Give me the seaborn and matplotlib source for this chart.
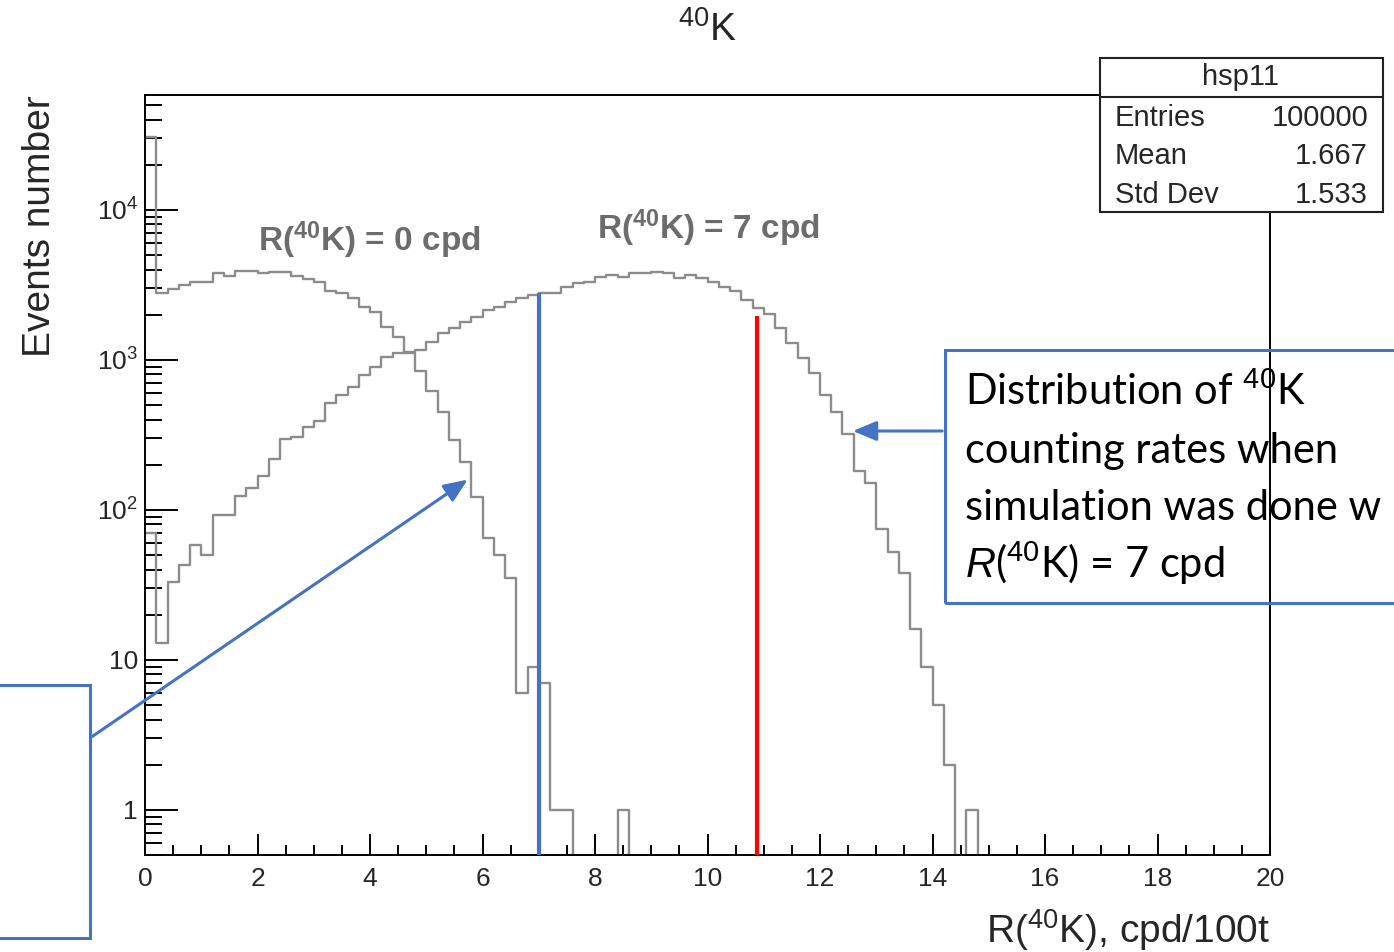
import numpy as np
import pandas as pd
import matplotlib
matplotlib.use("Agg")
import matplotlib.pyplot as plt
import seaborn as sns
from matplotlib.patches import Rectangle, FancyArrowPatch
from matplotlib.lines import Line2D
from matplotlib.ticker import FixedLocator, FixedFormatter, NullFormatter, MultipleLocator, LogLocator

# ---------------- data ----------------
x_min, x_max, n_bins = 0.0, 20.0, 100

counts_0cpd = [30700, 2800, 2950, 3150, 3300, 3300, 3800, 3600, 3900, 3900,
               3800, 3850, 3850, 3600, 3450, 3300, 2900, 2800, 2600, 2250,
               2100, 1650, 1420, 1110, 850, 620, 450, 293, 209, 122,
               65, 50, 35, 6, 9, 7, 1, 1, 0, 0,
               0, 0, 1] + [0] * 57

counts_7cpd = [70, 13, 33, 43, 58, 50, 93, 93, 124, 140,
               169, 219, 297, 307, 357, 390, 517, 585, 661, 794,
               900, 1050, 1110, 1130, 1166, 1318, 1515, 1634, 1790, 1936,
               2154, 2256, 2436, 2590, 2710, 2800, 2800, 3066, 3260, 3311,
               3575, 3690, 3575, 3800, 3800, 3860, 3800, 3520, 3690, 3520,
               3311, 3066, 2880, 2512, 2220, 2025, 1634, 1298, 1031, 819,
               585, 450, 320, 182, 151, 75, 52, 38, 16, 9,
               5, 2, 0, 1] + [0] * 26

sample_names = ["R(40K) = 0 cpd", "R(40K) = 7 cpd"]

x_ticks = [0, 2, 4, 6, 8, 10, 12, 14, 16, 18, 20]
x_tick_labels = [str(v) for v in x_ticks]
y_ticks = [1, 10, 100, 1000, 10000]
y_tick_labels = ["1", "10", r"$10^{2}$", r"$10^{3}$", r"$10^{4}$"]
y_limits = (0.5, 5.84e4)

marker_blue = (7.0, 2800)
marker_red = (10.88, 1965)

stats_title = "hsp11"
stats_names = ["Entries", "Mean", "Std Dev"]
stats_values = ["100000", "1.667", "1.533"]

label_0cpd_pos = (2.0, 6300)
label_7cpd_pos = (8.04, 7600)

# ---------------- style ----------------
sns.set_theme(style="white")
plt.rcParams["font.family"] = ["Liberation Sans", "DejaVu Sans"]
plt.rcParams["mathtext.fontset"] = "custom"
plt.rcParams["mathtext.rm"] = "Liberation Sans"
plt.rcParams["mathtext.it"] = "Liberation Sans:italic"
plt.rcParams["mathtext.bf"] = "Liberation Sans:bold"

W, H = 1394, 952
fig = plt.figure(figsize=(W / 100, H / 100), dpi=100)
fig.patch.set_facecolor("white")


def fpt(x, y):
    return (x / W, 1 - y / H)


ax = fig.add_axes([145 / W, 1 - 855 / H, (1270 - 145) / W, (855 - 95) / H])

bin_width = (x_max - x_min) / n_bins
centers = x_min + bin_width * (np.arange(n_bins) + 0.5)
df = pd.DataFrame({
    "x": np.concatenate([centers, centers]),
    "w": counts_0cpd + counts_7cpd,
    "sample": [sample_names[0]] * n_bins + [sample_names[1]] * n_bins,
})
sns.histplot(data=df, x="x", weights="w", hue="sample", binwidth=bin_width,
             binrange=(x_min, x_max),
             element="step", fill=False, multiple="layer",
             palette=["#8c8c8c", "#8c8c8c"], linewidth=1.7, legend=False, ax=ax)

ax.set_yscale("log")
ax.set_xlim(x_min, x_max)
ax.set_ylim(*y_limits)
ax.set_xlabel("")
ax.set_ylabel("")

# vertical markers
ax.vlines(marker_blue[0], y_limits[0], marker_blue[1], color="#4472C4", lw=3.0, zorder=5)
ax.vlines(marker_red[0], y_limits[0], marker_red[1], color="#FF0000", lw=3.0, zorder=5)

# ticks
ax.xaxis.set_major_locator(FixedLocator(x_ticks))
ax.xaxis.set_major_formatter(FixedFormatter(x_tick_labels))
ax.xaxis.set_minor_locator(MultipleLocator(0.5))
ax.yaxis.set_major_locator(FixedLocator(y_ticks))
ax.yaxis.set_major_formatter(FixedFormatter(y_tick_labels))
ax.yaxis.set_minor_locator(LogLocator(base=10, subs=np.arange(2, 10), numticks=20))
ax.yaxis.set_minor_formatter(NullFormatter())
ax.tick_params(axis="both", which="both", direction="in", color="black", width=1.4,
               top=False, right=False, bottom=True, left=True, labelsize=19)
ax.tick_params(axis="x", which="major", length=15, pad=9)
ax.tick_params(axis="x", which="minor", length=7)
ax.tick_params(axis="y", which="major", length=24, pad=5)
ax.tick_params(axis="y", which="minor", length=12)
for s in ax.spines.values():
    s.set_color("black")
    s.set_linewidth(1.4)
    s.set_visible(True)

# in-plot labels
ax.text(label_0cpd_pos[0], label_0cpd_pos[1], r"R($\mathbf{^{40}}$K) = 0 cpd",
        fontsize=24, fontweight="bold", color="#6c6c6c", ha="left", va="center")
ax.text(label_7cpd_pos[0], label_7cpd_pos[1], r"R($\mathbf{^{40}}$K) = 7 cpd",
        fontsize=24, fontweight="bold", color="#6c6c6c", ha="left", va="center")

# axis titles
fig.text(*fpt(708, 30), r"$^{40}$K", fontsize=28, ha="center", va="center")
fig.text(*fpt(40, 95), "Events number", fontsize=28, rotation=90, ha="center", va="top")
fig.text(*fpt(1270, 930), r"R($^{40}$K), cpd/100t", fontsize=28, ha="right", va="center")

# stats box
fig.add_artist(Rectangle(fpt(1100, 212), (1383 - 1100) / W, (212 - 58) / H,
                         transform=fig.transFigure, facecolor="white",
                         edgecolor="#222222", lw=1.5, zorder=10))
fig.add_artist(Line2D([1100 / W, 1383 / W], [1 - 97 / H, 1 - 97 / H],
                      transform=fig.transFigure, color="#222222", lw=1.5, zorder=11))
fig.text(*fpt(1241, 77), stats_title, fontsize=21, ha="center", va="center", zorder=12)
for i, (n, v) in enumerate(zip(stats_names, stats_values)):
    y = 118 + i * 38.5
    fig.text(*fpt(1115, y), n, fontsize=21, ha="left", va="center", zorder=12)
    fig.text(*fpt(1368, y), v, fontsize=21, ha="right", va="center", zorder=12)

# annotation boxes
blue = "#4472C4"
fig.add_artist(Rectangle(fpt(945, 603), (1420 - 945) / W, (603 - 350) / H,
                         transform=fig.transFigure, facecolor="none",
                         edgecolor=blue, lw=2.2, zorder=13))
fig.add_artist(Rectangle(fpt(-20, 938), (90 + 20) / W, (938 - 685) / H,
                         transform=fig.transFigure, facecolor="none",
                         edgecolor=blue, lw=2.2, zorder=13))
box_lines = [r"Distribution of $^{40}$K", "counting rates when",
             "simulation was done w", r"$\mathit{R}$($^{40}$K) = 7 cpd"]
for i, t in enumerate(box_lines):
    fig.text(*fpt(965, 405 + i * 57.7), t, fontsize=30, family=["Lato", "DejaVu Sans"],
             ha="left", va="baseline", color="black", zorder=14)

for (x0, y0), (x1, y1) in [((945, 431), (850, 431)), ((90, 738), (470, 478))]:
    fig.add_artist(FancyArrowPatch(fpt(x0, y0), fpt(x1, y1), transform=fig.transFigure,
                                   arrowstyle="-|>,head_length=1.2,head_width=0.5",
                                   mutation_scale=12, color=blue, lw=2.2, zorder=14))

fig.savefig("out.png", dpi=100)
